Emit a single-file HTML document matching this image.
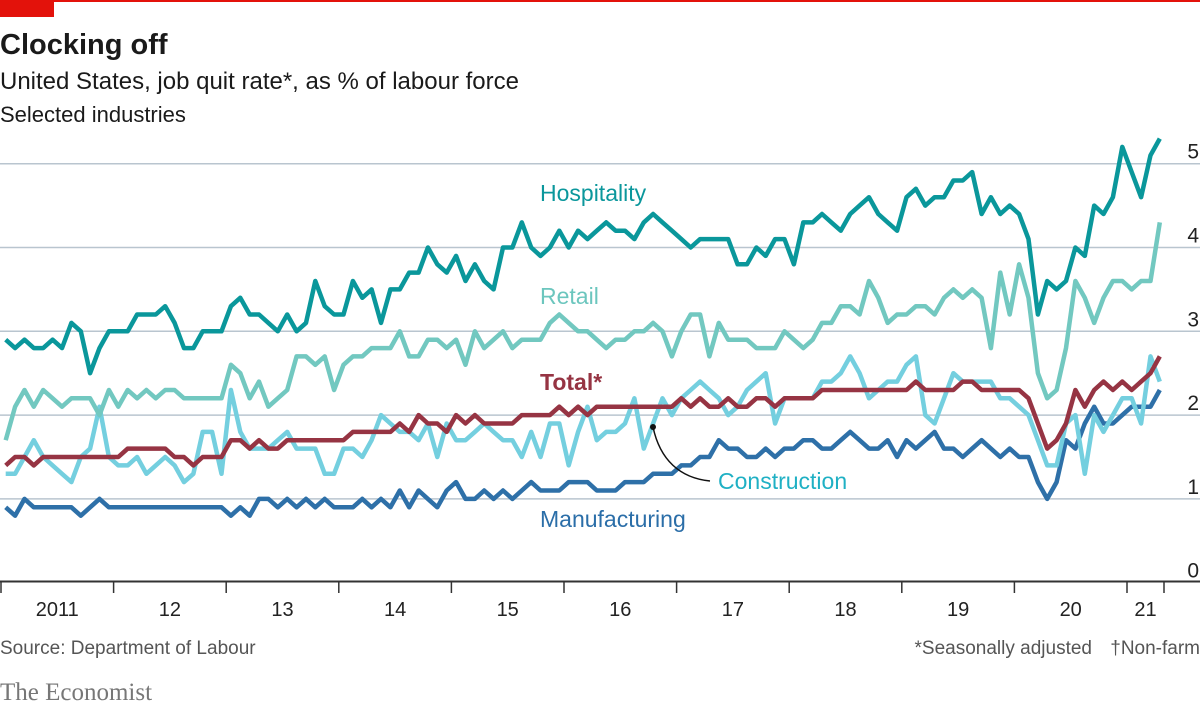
<!DOCTYPE html>
<html><head><meta charset="utf-8"><style>
body{margin:0;background:#fff;}
svg{display:block;font-family:"Liberation Sans",sans-serif;}
</style></head><body>
<svg width="1200" height="710" viewBox="0 0 1200 710">
<rect x="0" y="0" width="1200" height="2" fill="#e3120b"/>
<rect x="0" y="0" width="54" height="17" fill="#e3120b"/>
<text x="0" y="54" font-size="29" font-weight="bold" fill="#1a1a1a">Clocking off</text>
<text x="0" y="89" font-size="24" fill="#1a1a1a">United States, job quit rate*, as % of labour force</text>
<text x="0" y="122" font-size="22" fill="#1a1a1a">Selected industries</text>
<g id="grid"></g>
<g id="ylabels"></g>
<g id="series"></g>
<line x1="0" y1="581.5" x2="1200" y2="581.5" stroke="#333" stroke-width="2"/>
<g id="xticks"></g>
<text x="540" y="201" font-size="23" fill="#0b979c">Hospitality</text>
<text x="540" y="304" font-size="23" fill="#6cc6be">Retail</text>
<text x="540" y="390" font-size="23" font-weight="bold" fill="#963443">Total*</text>
<text x="718" y="489" font-size="23" fill="#1fb0c4">Construction</text>
<text x="540" y="527" font-size="23" fill="#2b6ea8">Manufacturing</text>
<path d="M653 427 C 660 460, 680 478, 710 481" fill="none" stroke="#111" stroke-width="1.5"/>
<circle cx="653" cy="427" r="3" fill="#111"/>
<text x="0" y="654" font-size="19" fill="#555">Source: Department of Labour</text>
<text x="1092" y="654" font-size="19" fill="#555" text-anchor="end">*Seasonally adjusted</text>
<text x="1200" y="654" font-size="19" fill="#555" text-anchor="end">†Non-farm</text>
<text x="0" y="700" font-size="25" fill="#777" font-family="Liberation Serif, serif">The Economist</text>
</svg>
<script>
const yTicks=[0,1,2,3,4,5];
const yearLabels=["2011","12","13","14","15","16","17","18","19","20","21"];
const hospitality=[2.9,2.8,2.9,2.8,2.8,2.9,2.8,3.1,3.0,2.5,2.8,3.0,3.0,3.0,3.2,3.2,3.2,3.3,3.1,2.8,2.8,3.0,3.0,3.0,3.3,3.4,3.2,3.2,3.1,3.0,3.2,3.0,3.1,3.6,3.3,3.2,3.2,3.6,3.4,3.5,3.1,3.5,3.5,3.7,3.7,4.0,3.8,3.7,3.9,3.6,3.8,3.6,3.5,4.0,4.0,4.3,4.0,3.9,4.0,4.2,4.0,4.2,4.1,4.2,4.3,4.2,4.2,4.1,4.3,4.4,4.3,4.2,4.1,4.0,4.1,4.1,4.1,4.1,3.8,3.8,4.0,3.9,4.1,4.1,3.8,4.3,4.3,4.4,4.3,4.2,4.4,4.5,4.6,4.4,4.3,4.2,4.6,4.7,4.5,4.6,4.6,4.8,4.8,4.9,4.4,4.6,4.4,4.5,4.4,4.1,3.2,3.6,3.5,3.6,4.0,3.9,4.5,4.4,4.6,5.2,4.9,4.6,5.1,5.3];
const retail=[1.7,2.1,2.3,2.1,2.3,2.2,2.1,2.2,2.2,2.2,2.0,2.3,2.1,2.3,2.2,2.3,2.2,2.3,2.3,2.2,2.2,2.2,2.2,2.2,2.6,2.5,2.2,2.4,2.1,2.2,2.3,2.7,2.7,2.6,2.7,2.3,2.6,2.7,2.7,2.8,2.8,2.8,3.0,2.7,2.7,2.9,2.9,2.8,2.9,2.6,3.0,2.8,2.9,3.0,2.8,2.9,2.9,2.9,3.1,3.2,3.1,3.0,3.0,2.9,2.8,2.9,2.9,3.0,3.0,3.1,3.0,2.7,3.0,3.2,3.2,2.7,3.1,2.9,2.9,2.9,2.8,2.8,2.8,3.0,2.9,2.8,2.9,3.1,3.1,3.3,3.3,3.2,3.6,3.4,3.1,3.2,3.2,3.3,3.3,3.2,3.4,3.5,3.4,3.5,3.4,2.8,3.7,3.2,3.8,3.4,2.5,2.2,2.3,2.8,3.6,3.4,3.1,3.4,3.6,3.6,3.5,3.6,3.6,4.3];
const total=[1.4,1.5,1.5,1.4,1.5,1.5,1.5,1.5,1.5,1.5,1.5,1.5,1.5,1.6,1.6,1.6,1.6,1.6,1.5,1.5,1.4,1.5,1.5,1.5,1.7,1.7,1.6,1.7,1.6,1.6,1.7,1.7,1.7,1.7,1.7,1.7,1.7,1.8,1.8,1.8,1.8,1.8,1.9,1.8,2.0,1.9,1.9,1.8,2.0,1.9,2.0,1.9,1.9,1.9,1.9,2.0,2.0,2.0,2.0,2.1,2.0,2.1,2.0,2.1,2.1,2.1,2.1,2.1,2.1,2.1,2.1,2.1,2.2,2.1,2.2,2.1,2.1,2.2,2.1,2.1,2.2,2.2,2.1,2.2,2.2,2.2,2.2,2.3,2.3,2.3,2.3,2.3,2.3,2.3,2.3,2.3,2.3,2.4,2.3,2.3,2.3,2.3,2.4,2.4,2.3,2.3,2.3,2.3,2.3,2.2,1.9,1.6,1.7,1.9,2.3,2.1,2.3,2.4,2.3,2.4,2.3,2.4,2.5,2.7];
const construction=[1.3,1.3,1.5,1.7,1.5,1.4,1.3,1.2,1.5,1.6,2.1,1.5,1.4,1.4,1.5,1.3,1.4,1.5,1.4,1.2,1.3,1.8,1.8,1.3,2.3,1.8,1.6,1.6,1.6,1.7,1.8,1.6,1.6,1.6,1.3,1.3,1.6,1.6,1.5,1.7,2.0,1.9,1.8,1.8,1.7,1.9,1.5,1.9,1.7,1.7,1.8,1.9,1.8,1.7,1.7,1.5,1.8,1.5,1.9,1.9,1.4,1.8,2.1,1.7,1.8,1.8,1.9,2.2,1.6,1.9,2.2,2.0,2.2,2.3,2.4,2.3,2.2,2.0,2.1,2.3,2.4,2.5,1.9,2.2,2.2,2.2,2.2,2.4,2.4,2.5,2.7,2.5,2.2,2.3,2.4,2.4,2.6,2.7,2.0,1.9,2.2,2.5,2.4,2.4,2.4,2.4,2.2,2.2,2.1,2.0,1.7,1.4,1.4,1.9,2.0,1.3,2.0,1.8,2.0,2.2,2.2,1.9,2.7,2.4];
const manufacturing=[0.9,0.8,1.0,0.9,0.9,0.9,0.9,0.9,0.8,0.9,1.0,0.9,0.9,0.9,0.9,0.9,0.9,0.9,0.9,0.9,0.9,0.9,0.9,0.9,0.8,0.9,0.8,1.0,1.0,0.9,1.0,0.9,1.0,0.9,1.0,0.9,0.9,0.9,1.0,0.9,1.0,0.9,1.1,0.9,1.1,1.0,0.9,1.1,1.2,1.0,1.0,1.1,1.0,1.1,1.0,1.1,1.2,1.1,1.1,1.1,1.2,1.2,1.2,1.1,1.1,1.1,1.2,1.2,1.2,1.3,1.3,1.3,1.4,1.4,1.5,1.5,1.7,1.6,1.6,1.5,1.5,1.6,1.5,1.6,1.6,1.7,1.7,1.6,1.6,1.7,1.8,1.7,1.6,1.6,1.7,1.5,1.7,1.6,1.7,1.8,1.6,1.6,1.5,1.6,1.7,1.6,1.5,1.6,1.5,1.5,1.2,1.0,1.2,1.7,1.6,1.9,2.1,1.9,1.9,2.0,2.1,2.1,2.1,2.3];

const NS="http://www.w3.org/2000/svg";
const y=v=>582.7-83.8*v;
const yearW=112.6;
const x=i=>1+(i+0.5)*yearW/12;
const grid=document.getElementById('grid');
const yl=document.getElementById('ylabels');
yTicks.forEach(t=>{
  if(t>0){
    const l=document.createElementNS(NS,'line');
    l.setAttribute('x1',0);l.setAttribute('x2',1200);
    l.setAttribute('y1',y(t));l.setAttribute('y2',y(t));
    l.setAttribute('stroke','#b9c5cf');l.setAttribute('stroke-width','1.5');
    
    
    grid.appendChild(l);
  }
  const tx=document.createElementNS(NS,'text');
  tx.setAttribute('x',1199);tx.setAttribute('y',y(t)-5);
  tx.setAttribute('text-anchor','end');tx.setAttribute('font-size','21');tx.setAttribute('fill','#222');
  tx.textContent=t;
  
  
  yl.appendChild(tx);
});
const xt=document.getElementById('xticks');
const tickX=k=>1+k*yearW;
for(let k=0;k<=yearLabels.length;k++){
  const l=document.createElementNS(NS,'line');
  const xx=k<yearLabels.length?tickX(k):1164;
  l.setAttribute('x1',xx);l.setAttribute('x2',xx);l.setAttribute('y1',581);l.setAttribute('y2',593);
  l.setAttribute('stroke','#333');l.setAttribute('stroke-width','1.5');
  
  
  xt.appendChild(l);
}
yearLabels.forEach((lab,k)=>{
  const tx=document.createElementNS(NS,'text');
  const end=k===yearLabels.length-1?1164:tickX(k+1);
  tx.setAttribute('x',(tickX(k)+end)/2);tx.setAttribute('y',616);
  tx.setAttribute('text-anchor','middle');tx.setAttribute('font-size','20');tx.setAttribute('fill','#222');
  tx.textContent=lab;
  
  
  xt.appendChild(tx);
});
const sg=document.getElementById('series');
function draw(arr,color,name){
  const p=document.createElementNS(NS,'path');
  p.setAttribute('d',arr.map((v,i)=>(i?'L':'M')+x(i).toFixed(1)+' '+y(v).toFixed(1)).join(' '));
  p.setAttribute('fill','none');p.setAttribute('stroke',color);p.setAttribute('stroke-width','4.5');
  p.setAttribute('stroke-linejoin','round');
  
  
  sg.appendChild(p);
}
draw(manufacturing,'#2e70a8','line-manufacturing');
draw(construction,'#74cfdf','line-construction');
draw(retail,'#72c8c0','line-retail');
draw(total,'#963443','line-total');
draw(hospitality,'#0a979b','line-hospitality');
</script>
</body></html>
